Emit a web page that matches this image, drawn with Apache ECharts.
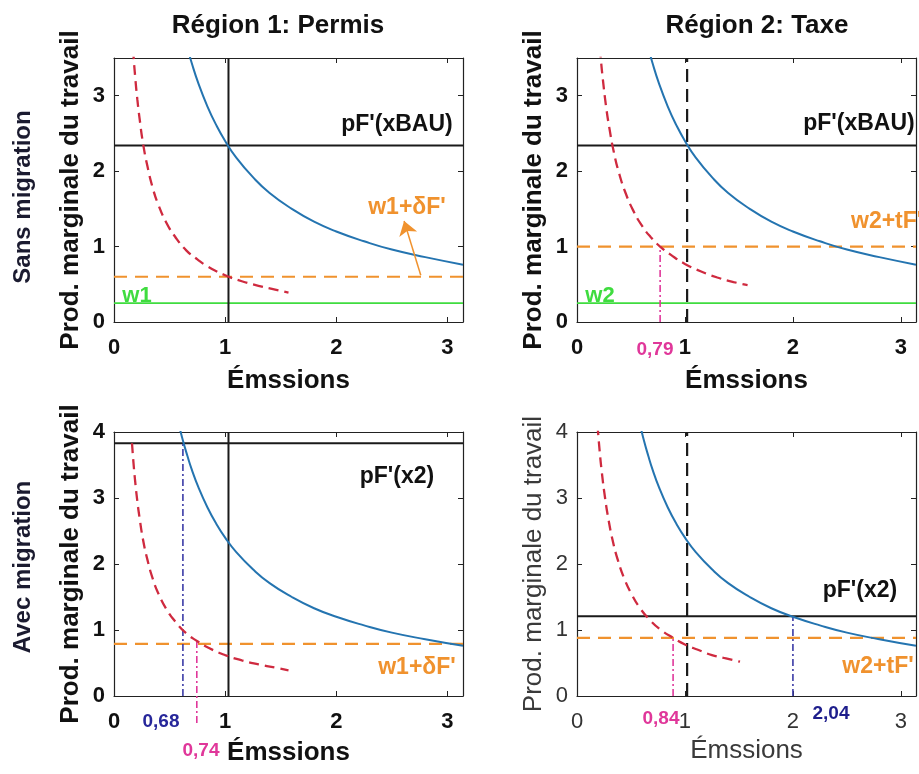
<!DOCTYPE html>
<html><head><meta charset="utf-8">
<script src="https://cdn.jsdelivr.net/npm/echarts/dist/echarts.min.js"></script>
<style>html,body{margin:0;padding:0;background:#fff}#c{width:919px;height:774px}</style>
</head><body><div id="c"></div>
<script>
// ---------- data ----------
const xTicks = [0, 1, 2, 3];
const yTicksTop = [0, 1, 2, 3];
const yTicksBottom = [0, 1, 2, 3, 4];
const xMax = 3.14;
const yMaxTop = 3.5;
const yMaxBottom = 4;

// marginal product curve pF'(x) (blue), same in every panel
const blueX = [0.58, 0.62, 0.66, 0.7, 0.76, 0.84, 0.92, 1.0, 1.1, 1.25, 1.4, 1.6, 1.8, 2.0, 2.25, 2.5, 2.8, 3.14];
const blueY = [4.14, 3.87, 3.64, 3.43, 3.16, 2.86, 2.61, 2.4, 2.18, 1.92, 1.71, 1.5, 1.33, 1.2, 1.07, 0.96, 0.86, 0.76];

// red dashed curves
const redPermisX = [0.162, 0.175, 0.19, 0.21, 0.23, 0.26, 0.3, 0.35, 0.4, 0.47, 0.55, 0.65, 0.75, 0.85, 1.0, 1.15, 1.3, 1.45, 1.57];
const redPermisY = [3.83, 3.54, 3.26, 2.95, 2.7, 2.38, 2.07, 1.77, 1.55, 1.32, 1.13, 0.95, 0.83, 0.73, 0.62, 0.54, 0.48, 0.43, 0.39];
const redTaxeSansX = [0.2, 0.22, 0.24, 0.27, 0.3, 0.34, 0.39, 0.45, 0.52, 0.6, 0.68, 0.77, 0.87, 1.0, 1.15, 1.3, 1.45, 1.58];
const redTaxeSansY = [3.85, 3.5, 3.21, 2.85, 2.57, 2.26, 1.97, 1.71, 1.48, 1.28, 1.13, 1.0, 0.89, 0.77, 0.67, 0.59, 0.53, 0.49];
const redTaxeAvecX = [0.19, 0.21, 0.23, 0.26, 0.29, 0.33, 0.38, 0.44, 0.5, 0.58, 0.67, 0.77, 0.89, 1.0, 1.12, 1.25, 1.38, 1.51];
const redTaxeAvecY = [4.1, 3.71, 3.39, 3.0, 2.69, 2.36, 2.05, 1.77, 1.56, 1.34, 1.16, 1.01, 0.88, 0.78, 0.7, 0.62, 0.57, 0.52];

// reference levels
const xBAU_permis = 1.03;
const xBAU_taxe = 1.02;
const pFxBAU = 2.34;
const w1 = 0.25;
const w2 = 0.25;
const w1dF_sans = 0.6;
const w2tF_sans = 1.0;
const pFx2_permis = 3.83;
const w1dF_avec = 0.79;
const pFx2_taxe = 1.21;
const w2tF_avec = 0.88;

// drop lines  [x, yFrom, yTo]
const drop079 = [0.77, 0, 1.0];
const drop068 = [0.62, 0, 3.83];
const drop074 = [0.745, -0.41, 0.83];
const drop084 = [0.89, 0, 0.88];
const drop204 = [2.0, 0, 1.21];

// arrow (panel 1)
const arrowFrom = [2.76, 0.62];
const arrowTo = [2.61, 1.34];

// ---------- styling ----------
const FONT = "'Liberation Sans', Arial, Helvetica, sans-serif";
const C = {
  blue: '#2474b0', red: '#cf2a3f', orange: '#f0922e', green: '#3fdc3f',
  black: '#1a1a1a', pink: '#e0379a', navy: '#3a3aa6', navyText: '#27279a'
};

const grids = [
  {left: 114, top: 58, width: 349, height: 264},
  {left: 577, top: 58, width: 349, height: 264},
  {left: 114, top: 432, width: 349, height: 264},
  {left: 577, top: 432, width: 349, height: 264}
];

const xAxis = [], yAxis = [], series = [];

function addAxes(g, yMax, yTicks, bold, xNameGap) {
  const fw = bold ? 'bold' : 'normal';
  const col = bold ? '#111' : '#333';
  const line = {show: true, onZero: false, lineStyle: {color: '#222', width: 1.2}};
  const tick = {show: true, inside: true, length: 5, lineStyle: {color: '#222', width: 1}};
  xAxis.push({gridIndex: g, type: 'value', min: 0, max: xMax, interval: 1, position: 'bottom',
    axisLine: line, axisTick: tick, splitLine: {show: false},
    axisLabel: {margin: 15, fontFamily: FONT, fontSize: 22, fontWeight: fw, color: col,
      formatter: v => xTicks.includes(v) ? String(v) : ''},
    name: 'Émssions', nameLocation: 'middle', nameGap: xNameGap,
    nameTextStyle: {fontFamily: FONT, fontSize: 26, fontWeight: fw, color: bold ? '#111' : '#3a3a3a'}});
  xAxis.push({gridIndex: g, type: 'value', min: 0, max: xMax, interval: 1, position: 'top',
    axisLine: line, axisTick: tick, splitLine: {show: false}, axisLabel: {show: false}});
  yAxis.push({gridIndex: g, type: 'value', min: 0, max: yMax, interval: 1, position: 'left',
    axisLine: line, axisTick: tick, splitLine: {show: false},
    axisLabel: {margin: 9, fontFamily: FONT, fontSize: 22, fontWeight: fw, color: col,
      formatter: v => yTicks.includes(v) ? String(v) : ''},
    name: 'Prod. marginale du travail', nameLocation: 'middle', nameGap: 30, nameRotate: 90,
    nameTextStyle: {fontFamily: FONT, fontSize: 26, fontWeight: fw, color: bold ? '#111' : '#3a3a3a'}});
  yAxis.push({gridIndex: g, type: 'value', min: 0, max: yMax, interval: 1, position: 'right',
    axisLine: line, axisTick: tick, splitLine: {show: false}, axisLabel: {show: false}});
}

function zip(xs, ys) { return xs.map((x, i) => [x, ys[i]]); }

function addLine(g, data, color, width, type, extra) {
  series.push(Object.assign({
    type: 'line', xAxisIndex: 2 * g, yAxisIndex: 2 * g, data: data,
    showSymbol: false, symbol: 'none', silent: true,
    lineStyle: {color: color, width: width, type: type}
  }, extra || {}));
}
function hLine(g, v, color, width, type) { addLine(g, [[0, v], [xMax, v]], color, width, type); }
function vLine(g, x, y0, y1, color, width, type, extra) { addLine(g, [[x, y0], [x, y1]], color, width, type, extra); }

const DASH_RED = [10, 6];
const DASH_OR = [13, 8];
const DASH_BK = [13, 7];
const DASHDOT = [7, 3, 2, 3];

addAxes(0, yMaxTop, yTicksTop, true, 46);
addAxes(1, yMaxTop, yTicksTop, true, 46);
addAxes(2, yMaxBottom, yTicksBottom, true, 44);
addAxes(3, yMaxBottom, yTicksBottom, false, 42);

// Panel 1: Région 1 Permis, sans migration
hLine(0, w1, C.green, 1.8, 'solid');
hLine(0, w1dF_sans, C.orange, 2.2, DASH_OR);
hLine(0, pFxBAU, C.black, 2, 'solid');
vLine(0, xBAU_permis, 0, yMaxTop, C.black, 2, 'solid');
addLine(0, zip(redPermisX, redPermisY), C.red, 2.3, DASH_RED, {smooth: true});
addLine(0, zip(blueX, blueY), C.blue, 2, 'solid', {smooth: true,
  markLine: {silent: true, symbol: ['none', 'arrow'], symbolSize: 14,
    lineStyle: {color: C.orange, width: 1.5, type: 'solid'}, label: {show: false},
    data: [[{coord: arrowFrom}, {coord: arrowTo}]]}});

// Panel 2: Région 2 Taxe, sans migration
hLine(1, w2, C.green, 1.8, 'solid');
hLine(1, w2tF_sans, C.orange, 2.2, DASH_OR);
hLine(1, pFxBAU, C.black, 2, 'solid');
vLine(1, xBAU_taxe, 0, yMaxTop, C.black, 2.2, DASH_BK);
vLine(1, drop079[0], drop079[1], drop079[2], C.pink, 1.6, DASHDOT);
addLine(1, zip(redTaxeSansX, redTaxeSansY), C.red, 2.3, DASH_RED, {smooth: true});
addLine(1, zip(blueX, blueY), C.blue, 2, 'solid', {smooth: true});

// Panel 3: Région 1 Permis, avec migration
hLine(2, w1dF_avec, C.orange, 2.2, DASH_OR);
hLine(2, pFx2_permis, C.black, 2, 'solid');
vLine(2, xBAU_permis, 0, yMaxBottom, C.black, 2, 'solid');
vLine(2, drop068[0], drop068[1], drop068[2], C.navy, 1.6, DASHDOT);
vLine(2, drop074[0], drop074[1], drop074[2], C.pink, 1.6, DASHDOT, {clip: false});
addLine(2, zip(redPermisX, redPermisY), C.red, 2.3, DASH_RED, {smooth: true});
addLine(2, zip(blueX, blueY), C.blue, 2, 'solid', {smooth: true});

// Panel 4: Région 2 Taxe, avec migration
hLine(3, w2tF_avec, C.orange, 2.2, DASH_OR);
hLine(3, pFx2_taxe, C.black, 2, 'solid');
vLine(3, xBAU_taxe, 0, yMaxBottom, C.black, 2.2, DASH_BK);
vLine(3, drop084[0], drop084[1], drop084[2], C.pink, 1.6, DASHDOT);
vLine(3, drop204[0], drop204[1], drop204[2], C.navy, 1.6, DASHDOT);
addLine(3, zip(redTaxeAvecX, redTaxeAvecY), C.red, 2.3, DASH_RED, {smooth: true});
addLine(3, zip(blueX, blueY), C.blue, 2, 'solid', {smooth: true});

// ---------- text ----------
function txt(text, x, y, size, color, opts) {
  opts = opts || {};
  return {type: 'text', x: x, y: y, rotation: opts.rot || 0, silent: true, z: 100,
    style: {text: text, x: 0, y: 0, fill: color, align: opts.align || 'center', verticalAlign: 'middle',
      font: (opts.weight || 'bold') + ' ' + size + 'px ' + FONT}};
}
const R = Math.PI / 2;
const graphic = [
  txt('Région 1: Permis', 278, 26, 26, '#111'),
  txt('Région 2: Taxe', 757, 26, 26, '#111'),
  txt('Sans migration', 23, 197, 24, '#1b1b30', {rot: R}),
  txt('Avec migration', 23, 567, 24, '#1b1b30', {rot: R}),
  txt("pF'(xBAU)", 397, 125, 23, '#111'),
  txt("w1+δF'", 407, 208, 23, C.orange),
  txt('w1', 137, 296, 22, C.green),
  txt("pF'(xBAU)", 859, 124, 23, '#111'),
  txt("w2+tF'", 851, 222, 23, C.orange, {align: 'left'}),
  txt('w2', 600, 296, 22, C.green),
  txt("pF'(x2)", 397, 477, 23, '#111'),
  txt("w1+δF'", 417, 668, 23, C.orange),
  txt("pF'(x2)", 860, 591, 23, '#111'),
  txt("w2+tF'", 878, 667, 23, C.orange),
  txt('0,79', 655, 350, 19, C.pink),
  txt('0,68', 161, 722, 19, C.navyText),
  txt('0,74', 201, 751, 19, C.pink),
  txt('0,84', 661, 719, 19, C.pink),
  txt('2,04', 831, 714, 19, '#1e1e8c')
];

const chart = echarts.init(document.getElementById('c'), null, {renderer: 'canvas'});
chart.setOption({
  animation: false,
  backgroundColor: '#fff',
  grid: grids.map(g => Object.assign({show: false, containLabel: false}, g)),
  xAxis: xAxis,
  yAxis: yAxis,
  series: series,
  graphic: graphic
});
</script></body></html>
